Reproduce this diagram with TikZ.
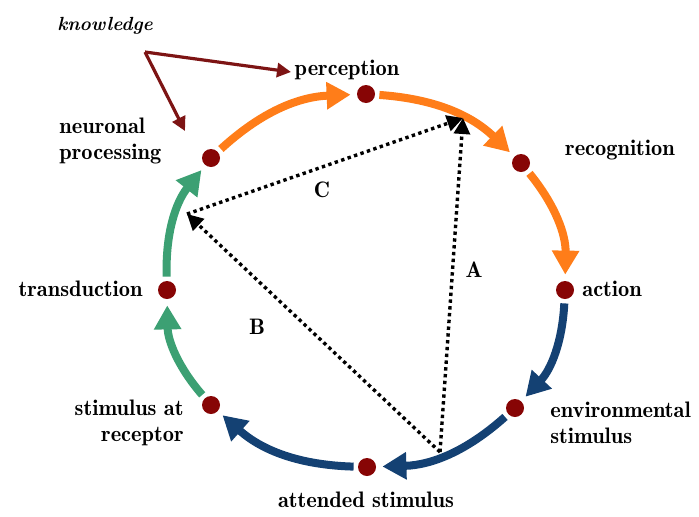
\documentclass[tikz,border=0pt]{standalone}
\usepackage{xcolor}
\usetikzlibrary{arrows.meta,positioning}
\definecolor{dotred}{RGB}{135,5,5}
\definecolor{floworange}{RGB}{255,125,25}
\definecolor{flowblue}{RGB}{20,65,115}
\definecolor{flowgreen}{RGB}{60,160,115}
\definecolor{knowred}{RGB}{125,20,20}

\begin{document}
\begin{tikzpicture}[x=0.5pt,y=0.5pt,
    dot/.style={circle,fill=dotred,inner sep=0pt,minimum size=9pt},
    flow/.style={line width=4pt,-{Triangle[length=12pt,width=13pt]},shorten <=2pt,shorten >=3pt,bend left=20},
    lbl/.style={font=\fontseries{b}\fontsize{11.2}{13}\selectfont,align=left,inner sep=1pt},
    cue/.style={line width=1.7pt,dash pattern=on 1.7pt off 1.7pt,-{Triangle[length=8pt,width=8pt]}},
    hint/.style={line width=1.6pt,knowred,-{Triangle[length=7pt,width=7pt]}}]
    \useasboundingbox (0,0) rectangle (699,516);

    % Stages on the cycle
    \node[dot] (perc) at (366,422) {};
    \node[dot] (recog) at (521,353) {};
    \node[dot] (act) at (565,226) {};
    \node[dot] (env) at (515,108) {};
    \node[dot] (att) at (367,49) {};
    \node[dot] (rec) at (211,111) {};
    \node[dot] (trans) at (167,226) {};
    \node[dot] (neur) at (211,358) {};

    % Labels
    \node[lbl] (percL) at (347,446) {perception};
    \node[lbl] (recogL) at (620,366) {recognition};
    \node[lbl,anchor=west] (actL) at (580,227) {action};
    \node[lbl,anchor=west] (envL) at (548,93) {environmental\\stimulus};
    \node[lbl] (attL) at (366,16) {attended stimulus};
    \node[lbl,anchor=east,align=right] (recL) at (186,93) {stimulus at\\receptor};
    \node[lbl,anchor=east] (transL) at (145,227) {transduction};
    \node[lbl,anchor=west] (neurL) at (57,375) {neuronal\\processing};
    \node[font=\bfseries\itshape\fontsize{9.5}{11}\selectfont] (know) at (105,490) {knowledge};

    % Cycle arrows
    \draw[flow,floworange] (neur) to (perc);
    \draw[flow,floworange] (perc) to (recog);
    \draw[flow,floworange] (recog) to (act);
    \draw[flow,flowblue] (act) to (env);
    \draw[flow,flowblue] (env) to (att);
    \draw[flow,flowblue] (att) to (rec);
    \draw[flow,flowgreen] (rec) to (trans);
    \draw[flow,flowgreen] (trans) to (neur);

    % Knowledge arrows
    \coordinate (k) at (145,464);
    \coordinate (kp) at (291,444);
    \coordinate (kn) at (185,385);
    \draw[hint] (k) -- (kp);
    \draw[hint] (k) -- (kn);

    % Triangle A, B, C
    \coordinate (tb) at (440,64);
    \coordinate (tt) at (463,398);
    \coordinate (tl) at (187,302);
    \draw[cue] (tb) -- (tt);
    \draw[cue] (tl) -- (tt);
    \draw[cue] (tb) -- (tl);
    \node[lbl] (a) at (474,246) {A};
    \node[lbl] (b) at (257,189) {B};
    \node[lbl] (c) at (322,326) {C};
\end{tikzpicture}
\end{document}
